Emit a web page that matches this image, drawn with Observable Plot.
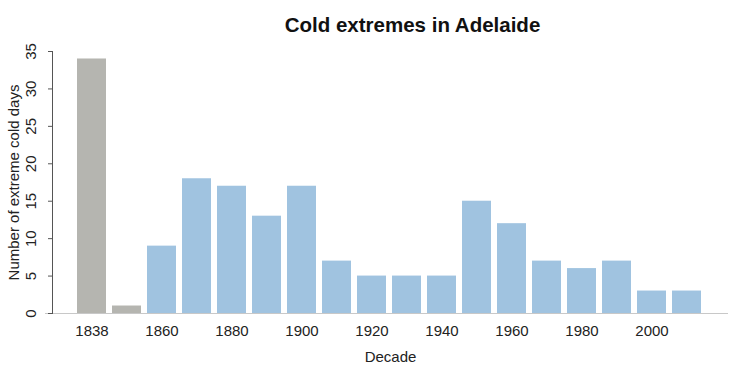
<!DOCTYPE html>
<html><head><meta charset="utf-8">
<script src="https://cdn.jsdelivr.net/npm/d3@7"></script>
<script src="https://cdn.jsdelivr.net/npm/@observablehq/plot@0.6"></script>
<style>body{margin:0;background:#fff;}</style>
</head><body><div id="chart"></div>
<script>
const decades = ["1838","1850","1860","1870","1880","1890","1900","1910","1920","1930","1940","1950","1960","1970","1980","1990","2000","2010"];
const days = [34,1,9,18,17,13,17,7,5,5,5,15,12,7,6,7,3,3];
const period = ["early","early","modern","modern","modern","modern","modern","modern","modern","modern","modern","modern","modern","modern","modern","modern","modern","modern"];
const tickLabels = ["1838","1860","1880","1900","1920","1940","1960","1980","2000"];
const yTicks = [0,5,10,15,20,25,30,35];
const title = "Cold extremes in Adelaide";
const data = decades.map((d,i)=>({decade:d, days:days[i], period:period[i]}));
const chart = Plot.plot({
  width:754, height:377, marginLeft:52, marginRight:26, marginTop:51, marginBottom:64,
  style:{fontFamily:"'Liberation Sans', Arial, sans-serif", fontSize:"15px", color:"#222", background:"#fff"},
  x:{type:"band", domain:decades, range:[76.7,702.3], paddingInner:0.17, paddingOuter:0},
  y:{domain:[0,35]},
  color:{domain:["early","modern"], range:["#b5b5b0","#a0c3e0"]},
  marks:[
    Plot.barY(data,{x:"decade",y:"days",fill:"period"}),
    Plot.ruleY([0],{stroke:"#c8c8c8", insetLeft:-7}),
    Plot.frame({anchor:"left", stroke:"#555"}),
    Plot.axisX({ticks:tickLabels, tickSize:0, tickPadding:12, label:"Decade", labelArrow:"none", labelAnchor:"center", labelOffset:48, fill:"#222"}),
    Plot.axisY({ticks:yTicks, tickSize:4, tickPadding:13, tickRotate:-90, stroke:"#555", fill:"#222", label:"Number of extreme cold days", labelArrow:"none", labelAnchor:"center", labelOffset:44}),
    Plot.text([title],{frameAnchor:"top", lineAnchor:"middle", dx:22, dy:-26, fontWeight:"bold", fontSize:20.5, fill:"#111"})
  ]
});
document.getElementById("chart").append(chart);
</script>
</body></html>
